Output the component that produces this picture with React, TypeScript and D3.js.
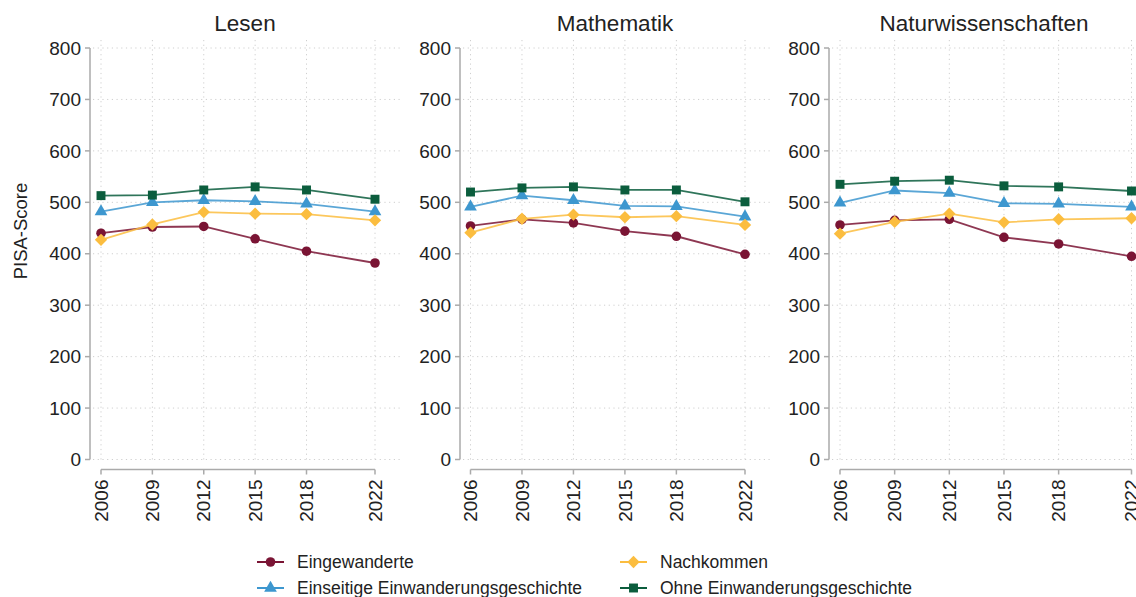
import React from "react";
import * as d3 from "d3";

const years = [2006, 2009, 2012, 2015, 2018, 2022];
const subjects = ["Lesen", "Mathematik", "Naturwissenschaften"];
const seriesNames = [
  "Eingewanderte",
  "Einseitige Einwanderungsgeschichte",
  "Nachkommen",
  "Ohne Einwanderungsgeschichte",
];
const yTicks = [0, 100, 200, 300, 400, 500, 600, 700, 800];

// Lesen
const lesenEingewanderte = [440, 452, 453, 429, 405, 382];
const lesenEinseitige = [482, 500, 504, 502, 497, 482];
const lesenNachkommen = [427, 457, 481, 478, 477, 465];
const lesenOhne = [513, 514, 524, 530, 524, 506];
// Mathematik
const matheEingewanderte = [454, 467, 460, 444, 434, 399];
const matheEinseitige = [491, 513, 504, 493, 492, 472];
const matheNachkommen = [441, 468, 476, 471, 473, 456];
const matheOhne = [520, 528, 530, 524, 524, 501];
// Naturwissenschaften
const naturEingewanderte = [456, 465, 467, 432, 419, 395];
const naturEinseitige = [499, 523, 518, 498, 497, 491];
const naturNachkommen = [439, 462, 478, 461, 467, 469];
const naturOhne = [535, 541, 543, 532, 530, 522];

const subjectData = [
  [lesenEingewanderte, lesenEinseitige, lesenNachkommen, lesenOhne],
  [matheEingewanderte, matheEinseitige, matheNachkommen, matheOhne],
  [naturEingewanderte, naturEinseitige, naturNachkommen, naturOhne],
];

const colors = ["#7a1434", "#3d97cf", "#fbbd3f", "#0b5d3d"];

const diamond: d3.SymbolType = {
  draw(ctx, size) {
    const s = Math.sqrt(size / 2);
    ctx.moveTo(0, -s);
    ctx.lineTo(s, 0);
    ctx.lineTo(0, s);
    ctx.lineTo(-s, 0);
    ctx.closePath();
  },
};
const symbols = [d3.symbolCircle, d3.symbolTriangle, diamond, d3.symbolSquare];
const symbolSizes = [72, 70, 76, 80];
const drawOrder = [0, 1, 2, 3];

const panels = [
  { axisX: 90, x0: 101, x1: 375, gridEnd: 400 },
  { axisX: 460, x0: 470.5, x1: 745, gridEnd: 770 },
  { axisX: 829, x0: 840, x1: 1131.5, gridEnd: 1140 },
];

const FONT = "Arial, 'Liberation Sans', sans-serif";
const yScale = d3.scaleLinear().domain([0, 800]).range([459.5, 48]);
const axisY = 469.5;

function Panel({ idx }: { idx: number }) {
  const p = panels[idx];
  const x = d3.scaleLinear().domain([2006, 2022]).range([p.x0, p.x1]);
  const line = d3
    .line<number>()
    .x((_, i) => x(years[i]))
    .y((v) => yScale(v));
  const data = subjectData[idx];
  const titleCenter = (p.axisX + p.axisX + 310) / 2;
  return (
    <g>
      <text x={titleCenter} y={31} textAnchor="middle" fontSize={22.5} fill="#222" fontFamily={FONT}>
        {subjects[idx]}
      </text>
      {yTicks.map((t) => (
        <line
          key={"h" + t}
          x1={p.axisX + 3}
          x2={p.gridEnd}
          y1={yScale(t)}
          y2={yScale(t)}
          stroke="#cfcfcf"
          strokeWidth={1}
          strokeDasharray="1.2,3.5"
        />
      ))}
      {years.map((yr) => (
        <line
          key={"v" + yr}
          x1={x(yr)}
          x2={x(yr)}
          y1={40}
          y2={yScale(0)}
          stroke="#cfcfcf"
          strokeWidth={1}
          strokeDasharray="1.2,3.5"
        />
      ))}
      <line x1={p.axisX} x2={p.axisX} y1={yScale(800)} y2={yScale(0)} stroke="#aaaaaa" strokeWidth={1.5} />
      {yTicks.map((t) => (
        <g key={"yt" + t}>
          <line x1={p.axisX - 5} x2={p.axisX} y1={yScale(t)} y2={yScale(t)} stroke="#aaaaaa" strokeWidth={1.5} />
          <text
            x={p.axisX - 9}
            y={yScale(t)}
            dy="0.35em"
            textAnchor="end"
            fontSize={19}
            fill="#222"
            fontFamily={FONT}
          >
            {t}
          </text>
        </g>
      ))}
      <line x1={p.x0} x2={p.x1} y1={axisY} y2={axisY} stroke="#aaaaaa" strokeWidth={1.5} />
      {years.map((yr) => (
        <g key={"xt" + yr}>
          <line x1={x(yr)} x2={x(yr)} y1={axisY} y2={axisY + 5} stroke="#aaaaaa" strokeWidth={1.5} />
          <text
            transform={`translate(${x(yr)},${axisY + 10}) rotate(-90)`}
            dy="0.35em"
            textAnchor="end"
            fontSize={19}
            fill="#222"
            fontFamily={FONT}
          >
            {yr}
          </text>
        </g>
      ))}
      {drawOrder.map((s) => (
        <g key={"s" + s}>
          <path d={line(data[s]) || ""} fill="none" stroke={colors[s]} strokeWidth={1.8} strokeOpacity={0.85} />
          {data[s].map((v, i) => (
            <path
              key={i}
              transform={`translate(${x(years[i])},${yScale(v)})`}
              d={d3.symbol().type(symbols[s]).size(symbolSizes[s])() || ""}
              fill={colors[s]}
            />
          ))}
        </g>
      ))}
    </g>
  );
}

function LegendItem({ s, x, y }: { s: number; x: number; y: number }) {
  return (
    <g>
      <line x1={x} x2={x + 27} y1={y} y2={y} stroke={colors[s]} strokeWidth={2} />
      <path
        transform={`translate(${x + 13.5},${y})`}
        d={d3.symbol().type(symbols[s]).size(symbolSizes[s])() || ""}
        fill={colors[s]}
      />
      <text x={x + 40} y={y} dy="0.35em" fontSize={17.5} fill="#222" fontFamily={FONT}>
        {seriesNames[s]}
      </text>
    </g>
  );
}

export default function App() {
  return (
    <svg
      width={1136}
      height={597}
      style={{ position: "absolute", left: 0, top: 0, background: "#fff" }}
    >
      <rect width={1136} height={597} fill="#fff" />
      <text
        transform="translate(27,231) rotate(-90)"
        textAnchor="middle"
        fontSize={18.5}
        fill="#222"
        fontFamily={FONT}
      >
        PISA-Score
      </text>
      {panels.map((_, i) => (
        <Panel key={i} idx={i} />
      ))}
      <LegendItem s={0} x={257} y={562} />
      <LegendItem s={2} x={620} y={562} />
      <LegendItem s={1} x={257} y={588} />
      <LegendItem s={3} x={620} y={588} />
    </svg>
  );
}
